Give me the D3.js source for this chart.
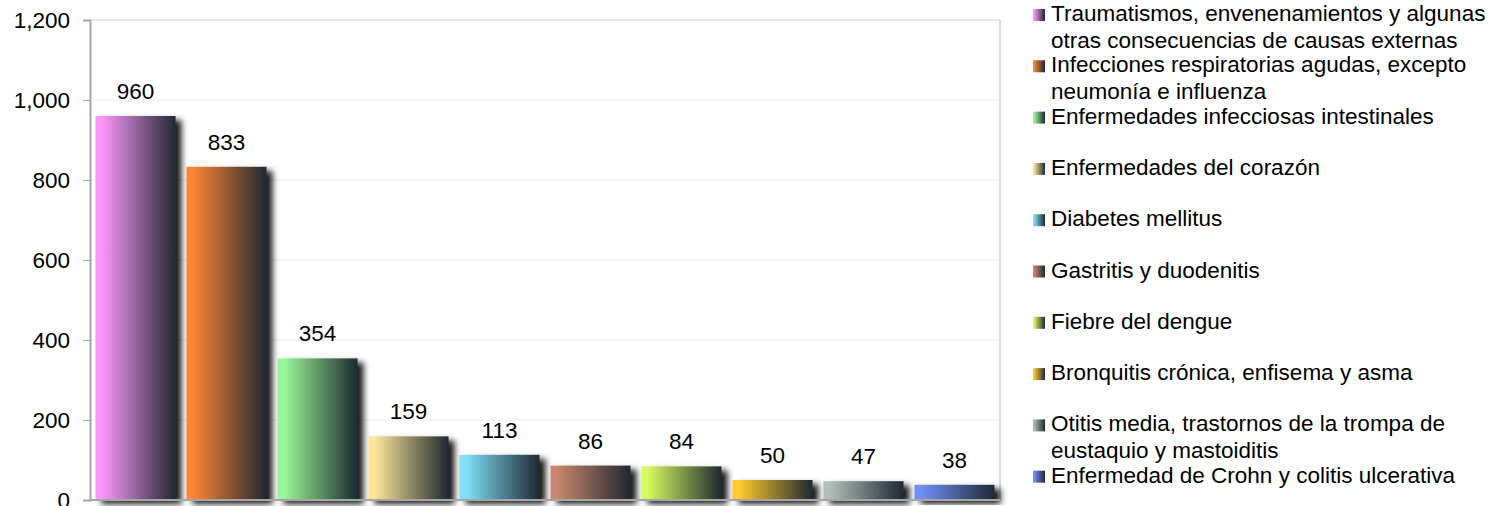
<!DOCTYPE html>
<html>
<head>
<meta charset="utf-8">
<script src="https://cdn.jsdelivr.net/npm/d3@7"></script>
<style>
    body { margin: 0; background: #fff; }
    svg { display: block; font-family: Arial, "Liberation Sans", sans-serif; }
</style>
</head>
<body>
<svg id="chart"></svg>
<script>
// Data
const categories = [
    "Traumatismos, envenenamientos y algunas otras consecuencias de causas externas",
    "Infecciones respiratorias agudas, excepto neumonía e influenza",
    "Enfermedades infecciosas intestinales",
    "Enfermedades del corazón",
    "Diabetes mellitus",
    "Gastritis y duodenitis",
    "Fiebre del dengue",
    "Bronquitis crónica, enfisema y asma",
    "Otitis media, trastornos de la trompa de eustaquio y mastoiditis",
    "Enfermedad de Crohn y colitis ulcerativa"
];
const values = [960, 833, 354, 159, 113, 86, 84, 50, 47, 38];
const legendLines = [
    ["Traumatismos, envenenamientos y algunas", "otras consecuencias de causas externas"],
    ["Infecciones respiratorias agudas, excepto", "neumonía e influenza"],
    ["Enfermedades infecciosas intestinales"],
    ["Enfermedades del corazón"],
    ["Diabetes mellitus"],
    ["Gastritis y duodenitis"],
    ["Fiebre del dengue"],
    ["Bronquitis crónica, enfisema y asma"],
    ["Otitis media, trastornos de la trompa de", "eustaquio y mastoiditis"],
    ["Enfermedad de Crohn y colitis ulcerativa"]
];
const yTicks = [0, 200, 400, 600, 800, 1000, 1200];
const colors = ["#fa97fb", "#fa8634", "#9af798", "#fbe596", "#80dff6",
                "#c8876f", "#d5fb5e", "#fdca2e", "#b1beb7", "#7090f6"];
const darkEnd = "#1f2831";

const width = 1491, height = 506;
const plot = { left: 90, right: 1000, top: 20, bottom: 500 };
const fontSize = 22.5;

const svg = d3.select("#chart")
    .attr("width", width)
    .attr("height", height);

const defs = svg.append("defs");

// one horizontal gradient per bar colour
colors.forEach((c, i) => {
    const g = defs.append("linearGradient")
        .attr("id", "grad" + i)
        .attr("x1", "0%").attr("x2", "100%")
        .attr("y1", "0%").attr("y2", "0%");
    g.append("stop").attr("offset", "0%").attr("stop-color", c);
    g.append("stop").attr("offset", "8%").attr("stop-color", c);
    g.append("stop").attr("offset", "100%").attr("stop-color", darkEnd);
});

const shadow = defs.append("filter")
    .attr("id", "shadow")
    .attr("x", "-20%").attr("y", "-20%")
    .attr("width", "150%").attr("height", "150%");
shadow.append("feDropShadow")
    .attr("dx", 6).attr("dy", 4)
    .attr("stdDeviation", 3)
    .attr("flood-color", "#000")
    .attr("flood-opacity", 0.9);

const x = d3.scaleBand()
    .domain(categories)
    .range([plot.left, plot.right])
    .paddingInner(0.12)
    .paddingOuter(0.06);

const y = d3.scaleLinear()
    .domain([0, 1200])
    .range([plot.bottom, plot.top]);

// gridlines
svg.append("g")
    .selectAll("line")
    .data(yTicks.filter(d => d > 0))
    .enter().append("line")
    .attr("x1", plot.left).attr("x2", plot.right)
    .attr("y1", d => y(d)).attr("y2", d => y(d))
    .attr("stroke", d => d === 1200 ? "#d0d0d0" : "#ebebeb")
    .attr("stroke-width", 1);

// plot area right border
svg.append("line")
    .attr("x1", plot.right).attr("x2", plot.right)
    .attr("y1", plot.top).attr("y2", plot.bottom)
    .attr("stroke", "#d9d9d9")
    .attr("stroke-width", 2);

// bars
svg.append("g")
    .selectAll("rect")
    .data(values)
    .enter().append("rect")
    .attr("x", (d, i) => x(categories[i]))
    .attr("y", d => y(d))
    .attr("width", x.bandwidth())
    .attr("height", d => y(0) - y(d))
    .attr("fill", (d, i) => `url(#grad${i})`)
    .attr("filter", "url(#shadow)");

// value labels
svg.append("g")
    .selectAll("text")
    .data(values)
    .enter().append("text")
    .attr("x", (d, i) => x(categories[i]) + x.bandwidth() / 2)
    .attr("y", d => y(d) - 17)
    .attr("text-anchor", "middle")
    .attr("font-size", fontSize)
    .attr("fill", "#000")
    .text(d => d);

// y axis
const yAxis = svg.append("g")
    .attr("transform", `translate(${plot.left},0)`)
    .call(d3.axisLeft(y)
        .tickValues(yTicks)
        .tickSize(7)
        .tickPadding(13)
        .tickFormat(d3.format(",")));
yAxis.select(".domain").attr("stroke", "#a6a6a6").attr("stroke-width", 2);
yAxis.selectAll(".tick line").attr("stroke", "#a6a6a6");
yAxis.selectAll(".tick text")
    .attr("font-size", fontSize)
    .attr("font-family", "Arial, 'Liberation Sans', sans-serif")
    .attr("fill", "#000");

// x axis baseline
svg.append("line")
    .attr("x1", plot.left).attr("x2", plot.right)
    .attr("y1", y(0)).attr("y2", y(0))
    .attr("stroke", "#a6a6a6")
    .attr("stroke-width", 2);

// legend
const legendStep = 51.3;
const legend = svg.append("g")
    .selectAll("g")
    .data(legendLines)
    .enter().append("g")
    .attr("transform", (d, i) => `translate(1033,${21 + i * legendStep})`);

legend.append("rect")
    .attr("x", 0).attr("y", -12)
    .attr("width", 12).attr("height", 12)
    .attr("fill", (d, i) => `url(#grad${i})`);

legend.append("text")
    .attr("x", 18)
    .attr("font-size", fontSize)
    .attr("fill", "#000")
    .selectAll("tspan")
    .data(d => d)
    .enter().append("tspan")
    .attr("x", 18)
    .attr("y", (d, j) => j * 27)
    .text(d => d);
</script>
</body>
</html>
